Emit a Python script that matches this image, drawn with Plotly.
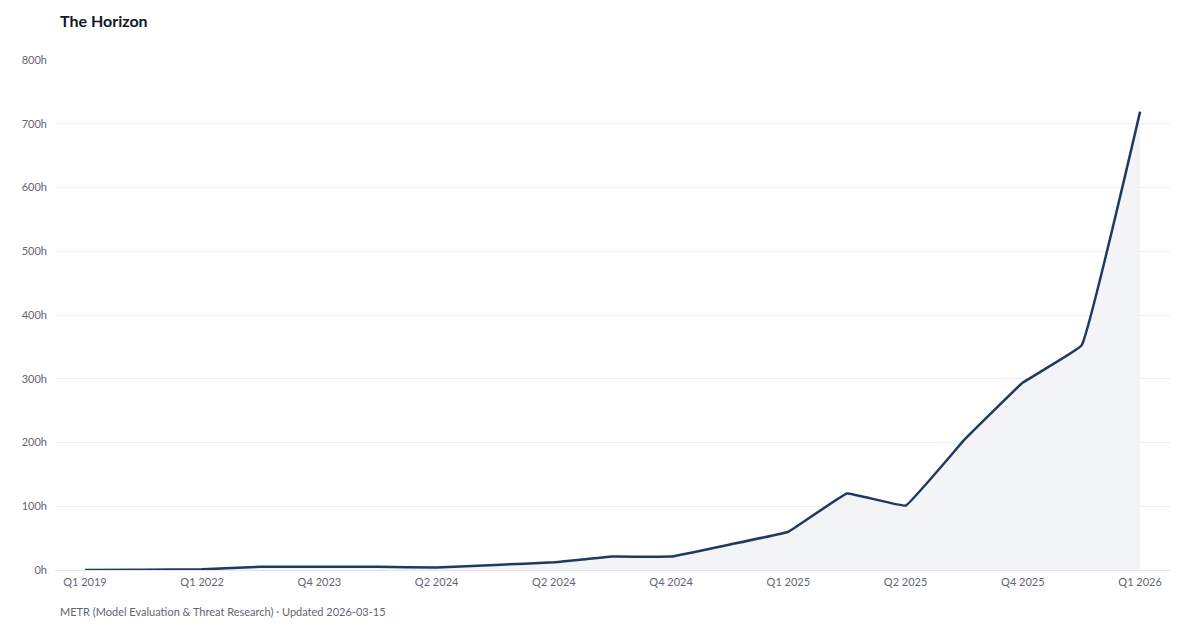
import plotly.graph_objects as go

title_text = "The Horizon"
footer_text = "METR (Model Evaluation &amp; Threat Research) · Updated 2026-03-15"

quarters = ["Q1 2019", "Q2 2020", "Q1 2022", "Q1 2023", "Q4 2023", "Q1 2024",
            "Q2 2024", "Q2 2024 ", "Q2 2024  ", "Q3 2024", "Q4 2024", "Q4 2024 ",
            "Q1 2025", "Q1 2025 ", "Q2 2025", "Q3 2025", "Q4 2025", "Q4 2025 ",
            "Q1 2026"]
hours = [0.1, 0.5, 1, 5, 5, 5, 4, 8, 12, 21, 21, 40, 60, 120, 101, 204, 294, 352, 719]
y_ticks = [0, 100, 200, 300, 400, 500, 600, 700, 800]

idx = list(range(len(quarters)))
tick_idx = idx[::2]
tick_text = [quarters[i].strip() for i in tick_idx]

# page has an 8px body margin; figure coords = page coords - 8
ML, MR, MT, MB = 47, 38, 52, 68
W, H = 1200, 630

fig = go.Figure()
fig.add_trace(go.Scatter(
    x=idx, y=hours, mode="lines",
    line=dict(color="#1f3a60", width=2.5, shape="spline", smoothing=0.2),
    fill="tozeroy", fillcolor="#f3f4f6",
    hoverinfo="skip", showlegend=False,
))

fig.update_layout(
    width=W, height=H,
    margin=dict(l=ML, r=MR, t=MT, b=MB),
    paper_bgcolor="white", plot_bgcolor="white",
    font=dict(family="Lato, 'Open Sans', sans-serif", color="#5f6673", size=11),
    xaxis=dict(
        range=[-0.51, 18.51], tickmode="array", tickvals=tick_idx, ticktext=tick_text,
        showgrid=False, zeroline=False, showline=False, ticks="",
        tickfont=dict(size=11, color="#5f6673"), ticklabelstandoff=4,
    ),
    yaxis=dict(
        range=[0, 800], tickmode="array", tickvals=y_ticks,
        ticktext=[f"{v}h" for v in y_ticks],
        showgrid=True, gridcolor="#eeeff2", gridwidth=1,
        zeroline=True, zerolinecolor="#e3e5e8", zerolinewidth=1,
        showline=False, ticks="", tickfont=dict(size=11, color="#5f6673"),
        ticklabelstandoff=7,
    ),
)

pw, ph = W - ML - MR, H - MT - MB
def px_to_paper(xp, yp):
    # xp, yp in page pixels
    xf, yf = xp - 8, yp - 8
    return (xf - ML) / pw, (H - MB - yf) / ph

tx, ty = px_to_paper(58, 20)
fx, fy = px_to_paper(58, 611)
fig.add_annotation(text=f"<b>{title_text}</b>", x=tx, y=ty, xref="paper", yref="paper",
                   xanchor="left", yanchor="middle", showarrow=False,
                   font=dict(size=16, color="#111827", family="Lato, sans-serif"))
fig.add_annotation(text=footer_text, x=fx, y=fy, xref="paper", yref="paper",
                   xanchor="left", yanchor="middle", showarrow=False,
                   font=dict(size=11, color="#5f6673", family="Lato, sans-serif"))

fig.write_html("out.html")
